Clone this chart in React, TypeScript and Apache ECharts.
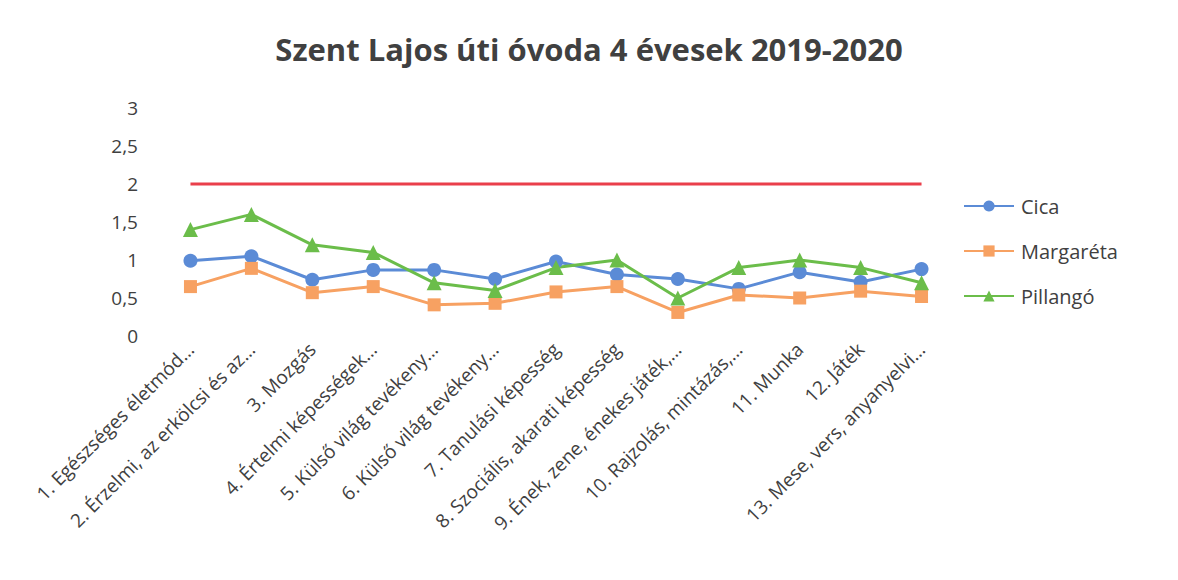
import React, { useEffect, useRef } from "react";
import * as echarts from "echarts";

const categories = [
  "1. Egészséges életmód…",
  "2. Érzelmi, az erkölcsi és az…",
  "3. Mozgás",
  "4. Értelmi képességek…",
  "5. Külső világ tevékeny…",
  "6. Külső világ tevékeny…",
  "7. Tanulási képesség",
  "8. Szociális, akarati képesség",
  "9. Ének, zene, énekes játék,…",
  "10. Rajzolás, mintázás,…",
  "11. Munka",
  "12. Játék",
  "13. Mese, vers, anyanyelvi…",
];

const cica = [0.99, 1.05, 0.74, 0.87, 0.87, 0.75, 0.98, 0.81, 0.75, 0.62, 0.84, 0.71, 0.88];
const margareta = [0.65, 0.89, 0.57, 0.65, 0.41, 0.43, 0.58, 0.65, 0.31, 0.54, 0.5, 0.59, 0.52];
const pillango = [1.4, 1.6, 1.2, 1.1, 0.7, 0.6, 0.9, 1.0, 0.5, 0.9, 1.0, 0.9, 0.7];
const target = [2, 2, 2, 2, 2, 2, 2, 2, 2, 2, 2, 2, 2];

const title = "Szent Lajos úti óvoda 4 évesek 2019-2020";
const FONT = "'Open Sans', 'Noto Sans', sans-serif";

export default function App() {
  const ref = useRef<HTMLDivElement>(null);
  useEffect(() => {
    if (!ref.current) return;
    const chart = echarts.init(ref.current, undefined, { renderer: "svg" });
    chart.setOption({
      animation: false,
      backgroundColor: "#ffffff",
      textStyle: { fontFamily: FONT },
      title: {
        text: title,
        left: "center",
        top: 28,
        textStyle: { fontFamily: FONT, fontSize: 31, fontWeight: "bold", color: "#404040" },
      },
      legend: {
        data: ["Cica", "Margaréta", "Pillangó"],
        orient: "vertical",
        left: 958,
        top: 191,
        itemWidth: 50,
        itemHeight: 14,
        itemGap: 25,
        textStyle: { fontSize: 20, color: "#404040", fontFamily: FONT, padding: [0, 0, 0, 2] },
      },
      grid: { left: 160, right: 226, top: 108, bottom: 244, containLabel: false },
      xAxis: {
        type: "category",
        data: categories,
        boundaryGap: true,
        axisLine: { show: false },
        axisTick: { show: false },
        axisLabel: {
          rotate: 45,
          interval: 0,
          margin: 10,
          fontSize: 19,
          color: "#404040",
          fontFamily: FONT,
        },
      },
      yAxis: {
        type: "value",
        min: 0,
        max: 3,
        interval: 0.5,
        axisLine: { show: false },
        axisTick: { show: false },
        splitLine: { show: false },
        axisLabel: {
          fontSize: 19,
          color: "#404040",
          margin: 22,
          fontFamily: FONT,
          formatter: (v: number) => String(v).replace(".", ","),
        },
      },
      series: [
        {
          name: "Cica",
          type: "line",
          data: cica,
          symbol: "circle",
          symbolSize: 14,
          lineStyle: { width: 3, color: "#5b8bd6" },
          itemStyle: { color: "#5b8bd6" },
        },
        {
          name: "Margaréta",
          type: "line",
          data: margareta,
          symbol: "rect",
          symbolSize: 13,
          lineStyle: { width: 3, color: "#f7a162" },
          itemStyle: { color: "#f7a162" },
        },
        {
          name: "Pillangó",
          type: "line",
          data: pillango,
          symbol: "triangle",
          symbolSize: 15,
          lineStyle: { width: 3, color: "#6bbd4a" },
          itemStyle: { color: "#6bbd4a" },
        },
        {
          name: "Cél",
          type: "line",
          data: target,
          symbol: "none",
          lineStyle: { width: 3, color: "#ea3f4b" },
          itemStyle: { color: "#ea3f4b" },
        },
      ],
    });
    return () => chart.dispose();
  }, []);
  return <div ref={ref} style={{ width: 1178, height: 580, position: "absolute", left: 0, top: 0 }} />;
}
